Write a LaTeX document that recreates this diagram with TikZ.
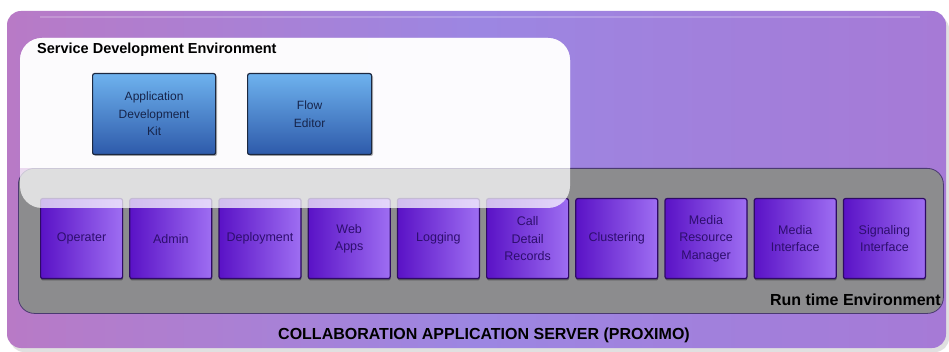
\documentclass[tikz,border=0pt]{standalone}
\usepackage{fontspec}
\setmainfont{Liberation Sans}
\usetikzlibrary{positioning}
\definecolor{outerA}{HTML}{B87AC6}
\definecolor{outerB}{HTML}{9C86E2}
\definecolor{outerC}{HTML}{A67AD6}
\definecolor{rtgray}{HTML}{8C8C8E}
\definecolor{rtedge}{HTML}{4A3A70}
\definecolor{pdark}{HTML}{5A12C6}
\definecolor{plight}{HTML}{9E6EF2}
\definecolor{pedge}{HTML}{2E0A66}
\definecolor{ptext}{HTML}{2E0E6E}
\definecolor{btop}{HTML}{6EB2EE}
\definecolor{bbot}{HTML}{2E5AAA}
\definecolor{bedge}{HTML}{1C2840}
\definecolor{btext}{HTML}{16244A}
\begin{document}
\begin{tikzpicture}[x=1pt,y=-1pt,
  comp/.style={draw=pedge,line width=1.2pt,rounded corners=2pt,
    left color=pdark,right color=plight,minimum width=82pt,minimum height=80pt,
    inner sep=0pt,align=center,text=ptext,font=\fontsize{12.5}{17.5}\selectfont,anchor=north west},
  tool/.style={draw=bedge,line width=1.2pt,rounded corners=2pt,
    top color=btop,bottom color=bbot,minimum width=123pt,minimum height=81pt,
    inner sep=0pt,align=center,text=btext,font=\fontsize{12}{17.5}\selectfont,anchor=north west},
  envlabel/.style={font=\bfseries\fontsize{16}{19}\selectfont,text=black,inner sep=0pt}]
\useasboundingbox (0,0) rectangle (949,352);
\fill[white] (0,0) rectangle (949,352);
% outer server box
\fill[gray!40,opacity=0.6,rounded corners=14pt] (10,15) rectangle (949,352);
\shade[rounded corners=14pt,left color=outerA,right color=outerC,middle color=outerB]
  (7,11) rectangle (946,348);
\draw[white,opacity=0.2,line width=2pt] (40,17) -- (920,17);
\node[coordinate] (srv) at (476,180) {};
% runtime environment
\node[draw=rtedge,line width=0.8pt,fill=rtgray,rounded corners=16pt,
  minimum width=925pt,minimum height=145pt,anchor=north west,inner sep=0pt] (rt) at (18,168) {};
% components
\foreach \i/\name/\txt in {0/op/Operater,1/ad/Admin,2/de/Deployment,3/wa/{Web\\Apps},4/lo/Logging,
  5/cd/{Call\\Detail\\Records},6/cl/Clustering,7/mr/{Media\\Resource\\Manager},8/mi/{Media\\Interface},9/si/{Signaling\\Interface}}{
  \fill[black,opacity=0.35,rounded corners=2pt] ({41+89.2*\i},{200}) rectangle ({41+89.2*\i+82},{280.5});
  \node[comp] (\name) at ({40+89.2*\i},198) {\txt};
}
% service development environment (translucent)
\begin{scope}
\fill[white,opacity=0.72,rounded corners=22pt] (20,38) rectangle (570,208);
\clip (0,0) rectangle (949,168);
\fill[white,opacity=0.9,rounded corners=22pt] (20,38) rectangle (570,208);
\end{scope}
\node[coordinate] (sde) at (295,123) {};
\node[anchor=west,font=\bfseries\fontsize{14.5}{17}\selectfont,inner sep=0pt] (sdet) at (37,50) {Service Development Environment};
\fill[black,opacity=0.3,rounded corners=2pt] (94,75) rectangle (217,156);
\fill[black,opacity=0.3,rounded corners=2pt] (249,75) rectangle (373,156);
\node[tool] (adk) at (92,73) {Application\\Development\\Kit};
\node[tool,minimum width=124pt] (fe) at (247,73) {Flow\\Editor};
% labels
\node[envlabel,anchor=east] (rtl) at (941,300) {Run time Environment};
\node[envlabel] (srvl) at (484,335) {COLLABORATION APPLICATION SERVER (PROXIMO)};
\end{tikzpicture}
\end{document}
